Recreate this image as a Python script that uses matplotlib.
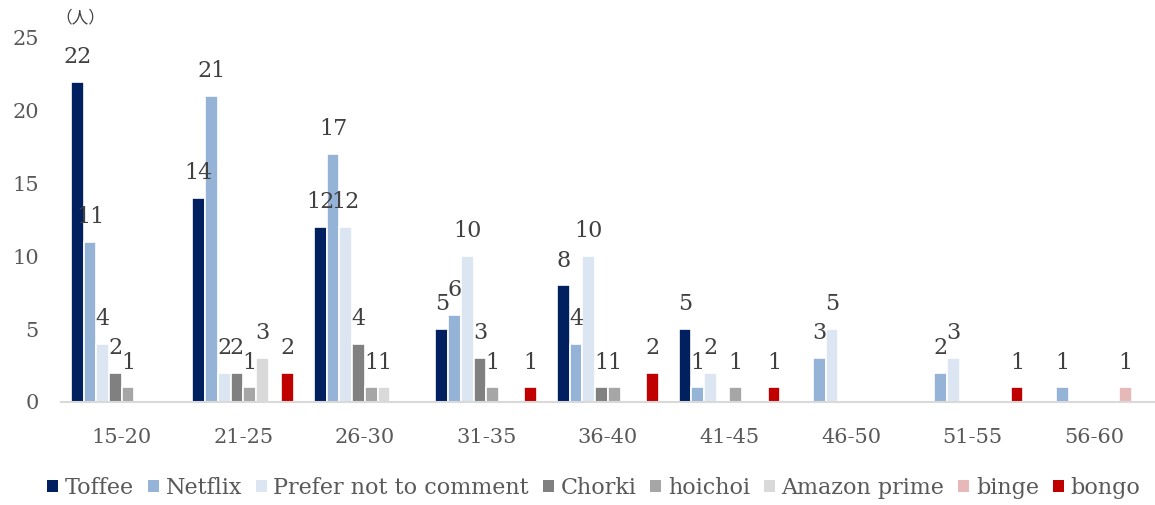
import numpy as np
import matplotlib.pyplot as plt

plt.rcParams['font.family'] = ['DejaVu Serif', 'Noto Sans CJK JP']

ages = ['15-20', '21-25', '26-30', '31-35', '36-40', '41-45', '46-50', '51-55', '56-60']
services = ['Toffee', 'Netflix', 'Prefer not to comment', 'Chorki', 'hoichoi',
            'Amazon prime', 'binge', 'bongo']
toffee = [22, 14, 12, 5, 8, 5, 0, 0, 0]
netflix = [11, 21, 17, 6, 4, 1, 3, 2, 1]
prefer = [4, 2, 12, 10, 10, 2, 5, 3, 0]
chorki = [2, 2, 4, 3, 1, 0, 0, 0, 0]
hoichoi = [1, 1, 1, 1, 1, 1, 0, 0, 0]
amazon = [0, 3, 1, 0, 0, 0, 0, 0, 0]
binge = [0, 0, 0, 0, 0, 0, 0, 0, 1]
bongo = [0, 2, 0, 1, 2, 1, 0, 1, 0]
series = [toffee, netflix, prefer, chorki, hoichoi, amazon, binge, bongo]
colors = ['#002060', '#95B3D7', '#DCE6F2', '#808080', '#A6A6A6', '#D9D9D9', '#E6B9B8', '#C00000']

txt = '#595959'
fig = plt.figure(figsize=(11.55, 5.05), dpi=100)
ax = fig.add_axes([0.0528, 0.204, 0.947, 0.721])

x = np.arange(len(ages))
step = 0.1046
for i, (vals, name, c) in enumerate(zip(series, services, colors)):
    pos = x + (i - 3.5) * step
    ax.bar(pos, vals, width=step, color=c, edgecolor='white', linewidth=1.2, label=name)
    for p, v in zip(pos, vals):
        if v > 0:
            ax.annotate(str(v), (p, v), xytext=(0, 10), textcoords='offset points',
                        ha='center', va='bottom', fontsize=16, color='#404040')

ax.set_xlim(-0.5, len(ages) - 0.5)
ax.set_ylim(0, 25)
ax.set_yticks(range(0, 26, 5))
ax.set_xticks(x)
ax.set_xticklabels(ages)
for s in ['top', 'right', 'left']:
    ax.spines[s].set_visible(False)
ax.spines['bottom'].set_color('#D9D9D9')
ax.spines['bottom'].set_linewidth(1.5)
ax.tick_params(axis='both', length=0, labelsize=15, colors=txt)
ax.tick_params(axis='x', pad=19)
ax.tick_params(axis='y', pad=16)
fig.text(0.048, 0.965, '（人）', fontsize=12, color='#404040', ha='left', va='center',
         family=['Noto Sans CJK JP', 'DejaVu Serif'])

leg = fig.legend(loc='center', bbox_to_anchor=(0.514, 0.034), ncol=8, frameon=False,
                 fontsize=16, handlelength=0.5, handleheight=0.5, handletextpad=0.3,
                 columnspacing=0.62, labelcolor=txt)
for h in leg.legend_handles:
    h.set_edgecolor('none')

fig.savefig('out.png', dpi=100)
